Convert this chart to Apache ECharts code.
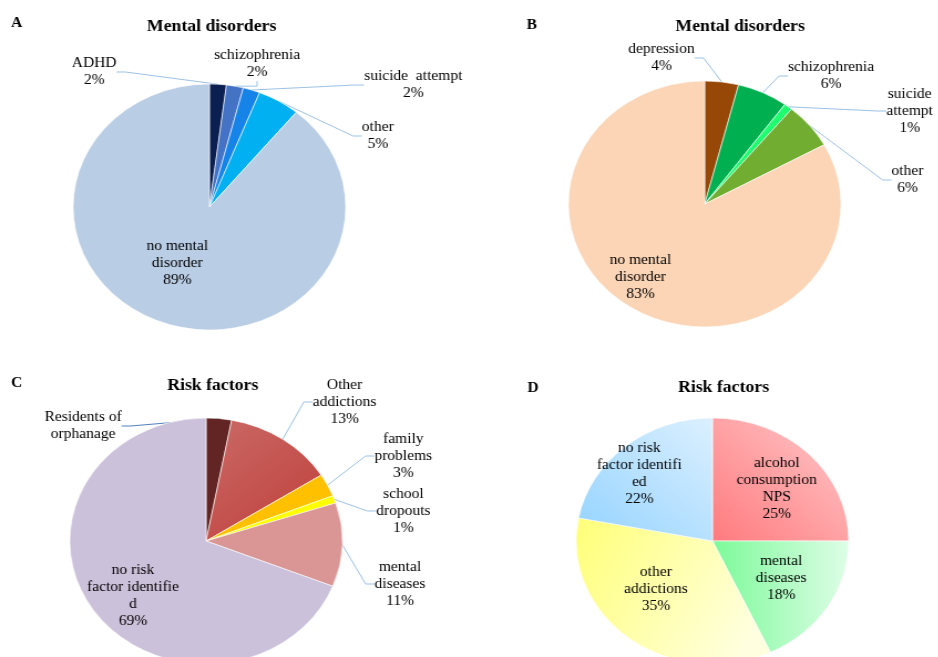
<!DOCTYPE html>
<html>
<head>
<meta charset="utf-8">
<title>Mental disorders and risk factors</title>
<script src="https://cdn.jsdelivr.net/npm/echarts/dist/echarts.min.js"></script>
<style>
  html, body { margin: 0; padding: 0; background: #fff; overflow: hidden; }
  /* the source figure is stretched sideways, so the drawing is widened the same way */
  #chart { width: 847px; height: 657px; transform: scaleX(1.108); transform-origin: 0 0; }
</style>
</head>
<body>
<div id="chart"></div>
<script>
// A - mental disorders (first group)
var namesA = ['ADHD', 'schizophrenia', 'suicide  attempt', 'other', 'no mental\ndisorder'];
var valuesA = [2, 2, 2, 5, 89];
// B - mental disorders (second group)
var namesB = ['depression', 'schizophrenia', 'suicide\nattempt', 'other', 'no mental\ndisorder'];
var valuesB = [4, 6, 1, 6, 83];
// C - risk factors (first group)
var namesC = ['Residents of\norphanage', 'Other\naddictions', 'family\nproblems', 'school\ndropouts', 'mental\ndiseases', 'no risk\nfactor identifie\nd'];
var valuesC = [3, 13, 3, 1, 11, 69];
// D - risk factors (second group)
var namesD = ['alcohol\nconsumption\nNPS', 'mental\ndiseases', 'other\naddictions', 'no risk\nfactor identifi\ned'];
var valuesD = [25, 18, 35, 22];

var colorsA = ['#0b2050', '#4472c4', '#1683e8', '#00b0f0', '#b9cde5'];
var colorsB = ['#974806', '#00b050', '#1eff70', '#70ad30', '#fbd5b5'];
var colorsC = ['#632523',
  new echarts.graphic.LinearGradient(0, 0, 1, 1, [{offset: 0, color: '#ca6a66'}, {offset: 1, color: '#bf3e3a'}]),
  '#ffc000', '#ffff00', '#d99694', '#ccc1da'];
var colorsD = [
  new echarts.graphic.LinearGradient(0, 1, 1, 0, [{offset: 0, color: '#ff7a7e'}, {offset: 1, color: '#ffcbcc'}]),
  new echarts.graphic.LinearGradient(0, 0, 1, 0, [{offset: 0, color: '#7cfa99'}, {offset: 1, color: '#defee7'}]),
  new echarts.graphic.LinearGradient(0, 0, 1, 0.6, [{offset: 0, color: '#ffff78'}, {offset: 1, color: '#ffffe0'}]),
  new echarts.graphic.LinearGradient(0, 1, 1, 0, [{offset: 0, color: '#93d3ff'}, {offset: 1, color: '#dcf0ff'}])
];

// label centres, relative to the pie centre
var labelPosA = [[-104, -135], [43, -143], [184, -122], [152, -71], [-29, 56]];
var labelPosB = [[-39, -146], [114, -128], [185, -93], [183, -24], [-58, 73]];
var labelPosC = [[-111, -115], [125, -139], [178, -85], [178, -30], [175, 43], [-66, 55]];
var labelPosD = [[58, -52], [62, 37], [-51, 48], [-66, -67]];

var FONT = '"Liberation Serif", "Times New Roman", serif';
var R = 123;

var chart = echarts.init(document.getElementById('chart'));

function makePie(names, values, colors, center, labelPos, insideIdx, plainIdx) {
  var data = names.map(function(n, i) {
    var item = {
      name: n,
      value: values[i],
      itemStyle: {color: colors[i]}
    };
    if (insideIdx.indexOf(i) >= 0) {
      item.label = {position: 'inside'};
      item.labelLine = {show: false};
    }
    if (plainIdx != null && plainIdx === i) {
      item.label = {formatter: '{b}'};
      item.labelLine = {lineStyle: {color: '#4f81bd'}};
    }
    return item;
  });
  return {
    type: 'pie',
    center: center,
    radius: R,
    startAngle: 90,
    clockwise: true,
    avoidLabelOverlap: false,
    animation: false,
    silent: true,
    itemStyle: {borderColor: '#ffffff', borderWidth: 0.6},
    label: {
      show: true,
      formatter: '{b}\n{c}%',
      fontFamily: FONT,
      fontSize: 14,
      lineHeight: 17,
      color: '#000',
      align: 'center'
    },
    labelLine: {
      show: true,
      length: 8,
      length2: 8,
      lineStyle: {color: '#9dc3e6', width: 1}
    },
    labelLayout: function(p) {
      var o = labelPos[p.dataIndex];
      return {
        x: center[0] + o[0],
        y: center[1] + o[1],
        align: 'center',
        verticalAlign: 'middle'
      };
    },
    data: data
  };
}

function heading(text, x, y, size) {
  return {
    text: text,
    left: x,
    top: y,
    textAlign: 'center',
    padding: 0,
    textStyle: {fontFamily: FONT, fontSize: size, fontWeight: 'bold', color: '#000'}
  };
}

chart.setOption({
  backgroundColor: '#ffffff',
  title: [
    heading('A', 15, 16, 14),
    heading('Mental disorders', 191, 19, 16),
    heading('B', 480, 18, 14),
    heading('Mental disorders', 668, 19, 16),
    heading('C', 15, 376, 14),
    heading('Risk factors', 192, 378, 16),
    heading('D', 481, 381, 14),
    heading('Risk factors', 653, 380, 16)
  ],
  series: [
    makePie(namesA, valuesA, colorsA, [189, 207], labelPosA, [4]),
    makePie(namesB, valuesB, colorsB, [636, 204], labelPosB, [4]),
    makePie(namesC, valuesC, colorsC, [186, 541], labelPosC, [5], 0),
    makePie(namesD, valuesD, colorsD, [643, 541], labelPosD, [0, 1, 2, 3])
  ]
});
</script>
</body>
</html>
